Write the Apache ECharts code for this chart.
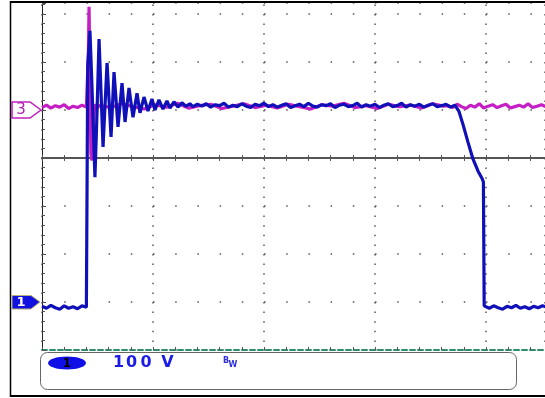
<!DOCTYPE html>
<html><head><meta charset="utf-8">
<script src="https://cdn.jsdelivr.net/npm/echarts@6/dist/echarts.min.js"></script>
<style>html,body{margin:0;padding:0;background:#fff}#c{width:545px;height:398px}</style>
</head><body><div id="c"></div>
<script>
// Screen units: x = horizontal divisions from left edge, y = vertical divisions from centre line
const X_MAX = 4.532, Y_MIN = -4, Y_MAX = 3.229;
const ch1Level = -3.0;   // channel 1 ground marker
const ch3Level = 1.0;    // channel 3 ground marker
const ch1Scale = '100 V';

// Channel 1 (blue)
const ch1LowLStart = 0, ch1LowLStep = 0.04;
const ch1LowL = [-3.09, -3.13, -3.07, -3.12, -3.15, -3.08, -3.13, -3.10, -3.14, -3.08, -3.11];
const ch1Ring = [
  [0.405, -3.10], [0.412, 1.90], [0.432, 2.65], [0.450, 1.50], [0.477, -0.40],
  [0.495, 0.90], [0.514, 2.48], [0.550, 0.23], [0.586, 1.98], [0.622, 0.44],
  [0.649, 1.79], [0.685, 0.65], [0.721, 1.56], [0.748, 0.75], [0.784, 1.46],
  [0.820, 0.85], [0.856, 1.35], [0.883, 0.94], [0.919, 1.27], [0.955, 0.98],
  [0.991, 1.23], [1.018, 1.00], [1.054, 1.21], [1.090, 1.02], [1.126, 1.19],
  [1.153, 1.04], [1.189, 1.17], [1.225, 1.06], [1.261, 1.15], [1.297, 1.08], [1.333, 1.13]
];
const ch1HighStart = 1.36, ch1HighStep = 0.04;
const ch1High = [
  1.07, 1.12, 1.08, 1.13, 1.06, 1.11, 1.09, 1.14, 1.06, 1.10,
  1.07, 1.13, 1.08, 1.05, 1.12, 1.09, 1.14, 1.07, 1.11, 1.06,
  1.10, 1.13, 1.05, 1.09, 1.12, 1.07, 1.14, 1.08, 1.06, 1.11,
  1.09, 1.13, 1.05, 1.10, 1.12, 1.07, 1.09, 1.14, 1.06, 1.11,
  1.08, 1.12, 1.05, 1.10, 1.13, 1.07, 1.09, 1.14, 1.06, 1.11,
  1.08, 1.12, 1.06, 1.10, 1.13, 1.07, 1.09, 1.12, 1.06, 1.10
];
const ch1Fall = [
  [3.730, 1.08], [3.757, 0.97], [3.793, 0.70], [3.838, 0.33], [3.883, -0.02],
  [3.928, -0.27], [3.964, -0.42], [3.977, -0.50], [3.984, -3.08]
];
const ch1LowRStart = 3.99, ch1LowRStep = 0.04;
const ch1LowR = [-3.10, -3.13, -3.08, -3.12, -3.15, -3.09, -3.12, -3.07, -3.13, -3.10, -3.14, -3.09, -3.12, -3.08, -3.11];

// Channel 3 (magenta)
const ch3LeftStart = 0, ch3LeftStep = 0.04;
const ch3Left = [1.05, 1.10, 1.04, 1.09, 1.06, 1.11, 1.03, 1.08, 1.05, 1.10, 1.06];
const ch3Spike = [
  [0.410, 1.06], [0.418, 2.20], [0.424, 3.15], [0.430, 2.10], [0.440, 0.10],
  [0.450, -0.05], [0.462, 0.70], [0.475, 1.12], [0.490, 1.02]
];
const ch3MidStart = 0.52, ch3MidStep = 0.1;
const ch3Mid = [1.10, 1.05, 1.13, 1.07, 1.02, 1.11, 1.06, 1.14, 1.04, 1.09, 1.12, 1.03, 1.08, 1.13, 1.05, 1.10,
  1.04, 1.12, 1.07, 1.02, 1.11, 1.08, 1.14, 1.05, 1.09, 1.03, 1.12, 1.07, 1.10, 1.04, 1.13, 1.08];
const ch3RightStart = 3.66, ch3RightStep = 0.04;
const ch3Right = [1.09, 1.05, 1.12, 1.07, 1.03, 1.10, 1.06, 1.13, 1.04, 1.08, 1.11, 1.05, 1.09, 1.12, 1.04,
  1.07, 1.10, 1.06, 1.13, 1.05, 1.08, 1.11, 1.07];

function sampled(t0, dt, vals) { return vals.map((v, i) => [t0 + i * dt, v]); }

const ch1Data = [].concat(
  sampled(ch1LowLStart, ch1LowLStep, ch1LowL), ch1Ring,
  sampled(ch1HighStart, ch1HighStep, ch1High), ch1Fall,
  sampled(ch1LowRStart, ch1LowRStep, ch1LowR));
const ch3Data = [].concat(
  sampled(ch3LeftStart, ch3LeftStep, ch3Left), ch3Spike,
  sampled(ch3MidStart, ch3MidStep, ch3Mid),
  sampled(ch3RightStart, ch3RightStep, ch3Right));

const chart = echarts.init(document.getElementById('c'), null, {renderer: 'canvas'});
const gridCol = '#555';
const baseX = {type: 'value', min: 0, max: X_MAX, interval: 1, axisLabel: {show: false}, splitLine: {show: false}};
chart.setOption({
  animation: false,
  backgroundColor: '#fff',
  grid: {left: 42, right: 0, top: 3, bottom: 48, containLabel: false},
  xAxis: [
    Object.assign({}, baseX, {
      position: 'bottom',
      axisLine: {show: true, onZero: true, lineStyle: {color: gridCol, width: 2}},
      axisTick: {show: true, inside: false, length: 3, lineStyle: {color: gridCol}},
      minorTick: {show: true, splitNumber: 5, length: 3, lineStyle: {color: gridCol}},
      splitLine: {show: true, lineStyle: {color: '#555', width: 1.5, type: [1.5, 8.1], dashOffset: 8.2}}
    }),
    Object.assign({}, baseX, {
      position: 'top',
      axisLine: {show: true, onZero: true, onZeroAxisIndex: 0, lineStyle: {color: gridCol, width: 2}},
      axisTick: {show: true, inside: false, length: 3, lineStyle: {color: gridCol}},
      minorTick: {show: true, splitNumber: 5, length: 3, lineStyle: {color: gridCol}}
    }),
    Object.assign({}, baseX, {
      position: 'bottom',
      axisLine: {show: true, onZero: false, lineStyle: {color: '#2e8b6e', width: 2, type: [5, 3]}},
      axisTick: {show: true, inside: true, length: 3, lineStyle: {color: gridCol}},
      minorTick: {show: true, splitNumber: 5, length: 3, lineStyle: {color: gridCol}}
    })
  ],
  yAxis: [{
    type: 'value', min: Y_MIN, max: Y_MAX, interval: 1, position: 'left',
    axisLabel: {show: false},
    axisLine: {show: true, lineStyle: {color: '#222', width: 1}},
    axisTick: {show: true, inside: true, length: 4, lineStyle: {color: gridCol}},
    minorTick: {show: true, splitNumber: 5, length: 3, lineStyle: {color: gridCol}},
    splitLine: {show: true, lineStyle: {color: '#555', width: 1.5, type: [1.5, 20.7]}}
  }],
  series: [
    {name: 'CH3', type: 'line', data: ch3Data, symbol: 'none', xAxisIndex: 0, yAxisIndex: 0,
     lineStyle: {color: '#c41ec4', width: 3.2}, z: 3},
    {name: 'CH1', type: 'line', data: ch1Data, symbol: 'none', xAxisIndex: 0, yAxisIndex: 0,
     lineStyle: {color: '#1010b8', width: 3.2}, z: 4}
  ]
});

const y3 = chart.convertToPixel({yAxisIndex: 0}, ch3Level);
const y1 = chart.convertToPixel({yAxisIndex: 0}, ch1Level);
const font = '"DejaVu Sans", sans-serif';
const scaleStyle = {font: 'bold 16px ' + font, fill: '#1c1ce8', align: 'center', verticalAlign: 'middle'};
chart.setOption({
  graphic: [
    {type: 'line', shape: {x1: 10, y1: 2, x2: 545, y2: 2}, style: {stroke: '#000', lineWidth: 2}, z: 50},
    {type: 'line', shape: {x1: 10.5, y1: 1, x2: 10.5, y2: 397}, style: {stroke: '#000', lineWidth: 1.5}, z: 50},
    {type: 'line', shape: {x1: 10, y1: 396, x2: 545, y2: 396}, style: {stroke: '#000', lineWidth: 2}, z: 50},
    {type: 'rect', shape: {x: 40.5, y: 352.5, width: 476, height: 37, r: 7}, style: {fill: '#fff', stroke: '#666', lineWidth: 1}, z: 50},
    {type: 'ellipse', shape: {cx: 67, cy: 363, rx: 19, ry: 6.5}, style: {fill: '#1010e6'}, z: 51},
    {type: 'text', x: 67, y: 363.5, style: {text: '1', font: 'bold 12px ' + font, fill: '#000', align: 'center', verticalAlign: 'middle'}, z: 52},
    {type: 'text', x: 118.5, y: 363, style: Object.assign({text: ch1Scale.charAt(0)}, scaleStyle), z: 52},
    {type: 'text', x: 131.5, y: 363, style: Object.assign({text: ch1Scale.charAt(1)}, scaleStyle), z: 52},
    {type: 'text', x: 146, y: 363, style: Object.assign({text: ch1Scale.charAt(2)}, scaleStyle), z: 52},
    {type: 'text', x: 167.5, y: 363, style: Object.assign({text: ch1Scale.charAt(4)}, scaleStyle), z: 52},
    {type: 'text', x: 226, y: 361, style: {text: 'B', font: 'bold 8px ' + font, fill: '#3030e0', align: 'center', verticalAlign: 'middle'}, z: 52},
    {type: 'text', x: 233, y: 364.5, style: {text: 'W', font: 'bold 8px ' + font, fill: '#3030e0', align: 'center', verticalAlign: 'middle'}, z: 52},
    {type: 'polygon', shape: {points: [[12, y3 - 8], [30, y3 - 8], [41, y3], [30, y3 + 8], [12, y3 + 8]]},
     style: {fill: '#fff', stroke: '#c020c0', lineWidth: 1.5}, z: 52},
    {type: 'text', x: 21, y: y3 + 0.5, style: {text: '3', font: '15px ' + font, fill: '#b01fb0', align: 'center', verticalAlign: 'middle'}, z: 53},
    {type: 'polygon', shape: {points: [[12, y1 - 6.5], [31, y1 - 6.5], [40, y1], [31, y1 + 7], [12, y1 + 7]]},
     style: {fill: '#1212e0', stroke: '#b8b070', lineWidth: 1}, z: 52},
    {type: 'text', x: 21, y: y1 + 0.5, style: {text: '1', font: 'bold 13px ' + font, fill: '#fff', align: 'center', verticalAlign: 'middle'}, z: 53}
  ]
});
</script></body></html>
